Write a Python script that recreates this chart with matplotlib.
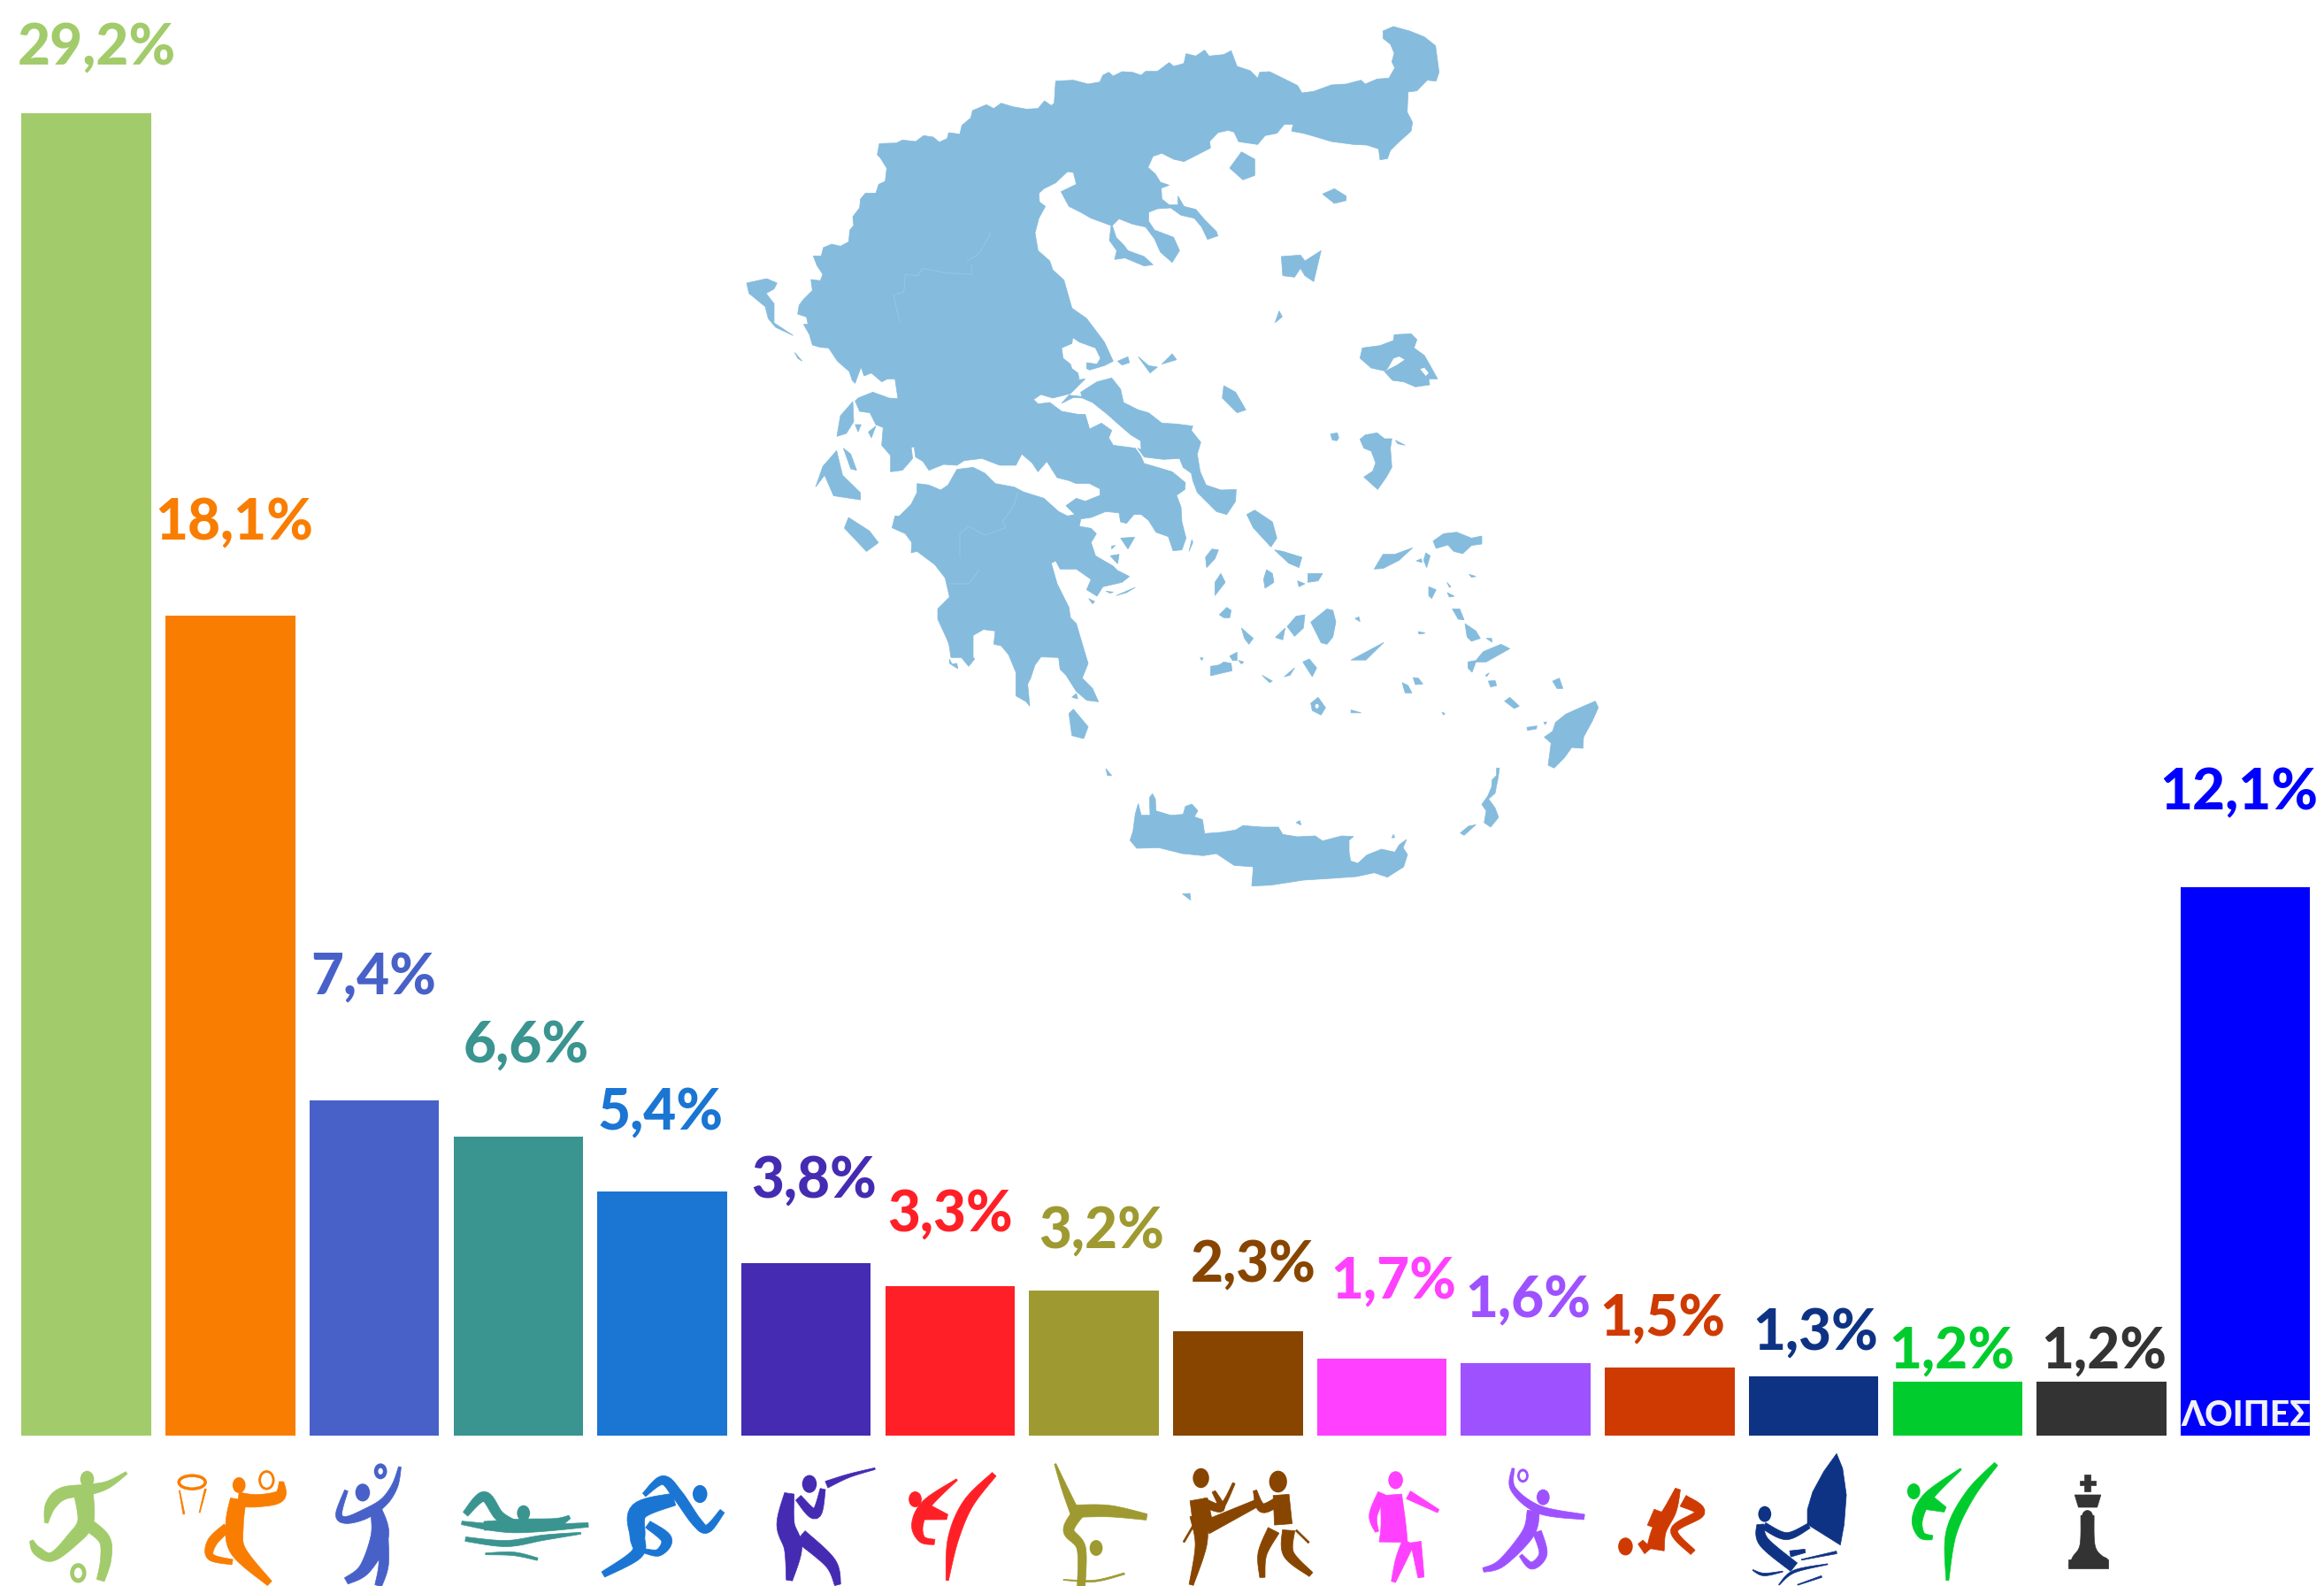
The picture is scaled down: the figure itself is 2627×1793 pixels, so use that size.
import matplotlib
matplotlib.use('Agg')
import matplotlib.pyplot as plt
import numpy as np
from matplotlib.patches import Ellipse, Polygon

percent = [29.2, 18.1, 7.4, 6.6, 5.4, 3.8, 3.3, 3.2, 2.3, 1.7, 1.6, 1.5, 1.3, 1.2, 1.2, 12.1]
percent_labels = ['29,2%', '18,1%', '7,4%', '6,6%', '5,4%', '3,8%', '3,3%', '3,2%',
                  '2,3%', '1,7%', '1,6%', '1,5%', '1,3%', '1,2%', '1,2%', '12,1%']
colors = ['#A2CB6B', '#F97D00', '#4861C9', '#3A9490', '#1A75D3', '#452BB2', '#FF2027', '#9E9A31',
          '#874500', '#FF40FF', '#9E52FF', '#CE3A02', '#0F3384', '#00CC2D', '#333333', '#0000FF']
others_label = 'ΛΟΙΠΕΣ'
MAP_COLOR = '#85BBDD'

# label anchors in picture pixels, they do not sit centred over the bars
label_x = [109, 265, 422, 595, 747, 920, 1074, 1245, 1417, 1575, 1727, 1879, 2052, 2206, 2378, 2531]
label_base = [73, 610, 1124, 1201, 1277, 1354, 1392, 1411, 1449, 1468, 1489, 1510, 1526, 1547, 1547, 915]

W, H = 2627, 1793
fig = plt.figure(figsize=(W / 100, H / 100), dpi=100, facecolor='white')

# bars: one unit of x is one bar slot (162.7 px), one unit of y is 51.2 px
ax = fig.add_axes([0, 0, 1, 1])
ax.bar(range(len(percent)), percent, width=0.9, color=colors)
ax.set_xlim(-97.7 / 162.7, (W - 97.7) / 162.7)
ax.set_ylim((1623 - H) / 51.2, 1623 / 51.2)
ax.axis('off')

# overlay in picture pixels for the map, the icons and the texts
ov = fig.add_axes([0, 0, 1, 1])
ov.set_xlim(0, W)
ov.set_ylim(H, 0)
ov.axis('off')
ov.patch.set_alpha(0)

for x, y, s, c in zip(label_x, label_base, percent_labels, colors):
    ov.text(x, y, s, color=c, fontsize=46, family='Lato', fontweight='black', ha='center', va='baseline')
ov.text(2538.5, 1612, others_label, color='#F0F0F6', fontsize=28, family='Lato',
        fontweight='black', ha='center', va='baseline')


def crop3(x0, y0, pts):
    return [(x0 + a / 3, y0 + b / 3) for a, b in pts]


def crop_d(pts):
    # the first overview crop, stretched 1.479x by 1.508y
    return [(780 + a / 1.479, b / 1.5077) for a, b in pts]


mainland_nw = [(290, 880), (262, 878), (235, 870), (225, 835), (205, 800), (220, 800), (215, 775), (185, 765), (190, 735),
               (205, 715), (235, 685), (230, 648), (262, 652), (270, 630), (250, 600), (238, 568), (265, 568), (272, 540),
               (300, 528), (330, 535), (358, 520), (362, 480), (375, 465), (372, 435), (395, 405), (398, 375), (415, 355),
               (450, 355), (460, 325), (482, 315), (487, 270), (465, 235), (455, 225), (462, 187), (520, 185), (540, 175),
               (585, 180), (612, 160), (645, 165), (665, 182), (692, 170), (697, 150), (735, 155), (742, 125), (772, 100),
               (778, 75), (825, 55), (850, 68), (875, 50), (915, 62), (960, 70), (1000, 68), (1022, 42), (1045, 58),
               (1055, 50), (1058, 0)]
mainland_ne = [(40, 215), (100, 212), (150, 225), (190, 218), (200, 195), (220, 185), (235, 198), (265, 183), (300, 185),
               (330, 195), (345, 182), (385, 182), (425, 152), (440, 165), (475, 155), (482, 122), (515, 130), (545, 110),
               (560, 130), (610, 125), (635, 112), (655, 165), (700, 180), (725, 205), (732, 185), (765, 183), (810, 205),
               (860, 230), (875, 255), (915, 250), (975, 228), (1025, 225), (1075, 212), (1090, 225), (1130, 208),
               (1170, 205), (1190, 170), (1180, 150), (1188, 120), (1175, 90), (1150, 70), (1150, 45), (1185, 30),
               (1240, 45), (1290, 65), (1328, 95), (1340, 185), (1330, 215), (1300, 212), (1265, 248), (1235, 252),
               (1232, 320), (1250, 355), (1245, 385), (1200, 425), (1175, 450), (1165, 478), (1140, 482), (1135, 445),
               (1095, 432), (1050, 430), (975, 420), (915, 402), (880, 392), (840, 385), (845, 362), (815, 362), (790, 392),
               (750, 400), (725, 430), (670, 422), (660, 420), (645, 388), (625, 382), (590, 390), (562, 420), (565, 442),
               (520, 465), (475, 488), (440, 480), (400, 460), (370, 470), (353, 508), (378, 530), (395, 558), (425, 568),
               (398, 578), (400, 615), (425, 635), (455, 635), (455, 605), (475, 640), (515, 650), (545, 685), (585, 725),
               (590, 740), (555, 752), (535, 710), (510, 680), (465, 670), (430, 645), (385, 648), (355, 660), (355, 690),
               (375, 720), (440, 745), (460, 790), (435, 830), (395, 795), (375, 750), (345, 710), (300, 700), (255, 682),
               (232, 705), (245, 745), (270, 770), (285, 790), (340, 810), (370, 838), (340, 842), (275, 815), (240, 820),
               (247, 790), (222, 755), (228, 705), (160, 680), (125, 660), (85, 640), (58, 590), (110, 565), (100, 525),
               (80, 522), (40, 560), (0, 580)]
mainland_e = [(1003, 355), (1005, 385), (1025, 400), (1003, 440), (990, 490), (1000, 550), (1040, 585), (1050, 615),
              (1088, 650), (1115, 745), (1165, 780), (1225, 860), (1255, 925), (1225, 940), (1175, 955), (1165, 950),
              (1165, 930), (1200, 935), (1212, 915), (1195, 880), (1140, 860), (1118, 845), (1115, 865), (1080, 880),
              (1085, 915), (1110, 935), (1115, 950), (1135, 965), (1140, 985), (1125, 990), (1160, 985), (1110, 1035),
              (1050, 1050), (1010, 1038), (985, 1055), (1000, 1070), (1040, 1065), (1080, 1095), (1135, 1105), (1160, 1105),
              (1175, 1155), (1215, 1135), (1250, 1160), (1240, 1185), (1255, 1210), (1330, 1220)]
mainland_s = [(868, 345), (880, 372), (925, 385), (975, 400), (1020, 437), (1018, 460), (990, 480), (1005, 520), (1008, 570),
              (1022, 625), (1008, 665), (978, 668), (962, 620), (920, 605), (895, 565), (870, 545), (835, 545), (800, 540),
              (750, 535), (700, 555), (665, 560), (645, 545), (615, 515), (650, 490), (680, 500), (730, 480), (730, 458),
              (695, 440), (650, 440), (625, 430), (585, 420), (550, 365), (520, 400), (500, 370), (465, 340), (445, 378),
              (390, 378), (330, 355), (270, 362), (245, 378), (200, 375), (150, 395), (130, 365), (105, 350), (100, 315),
              (90, 318), (95, 355), (60, 395), (20, 400)]
mainland_w = [(500, 1245), (470, 1210), (475, 1150), (450, 1140), (430, 1100), (395, 1095), (380, 1060), (390, 1050),
              (440, 1030), (495, 1050), (525, 1052), (515, 985), (490, 985), (470, 995), (435, 965), (410, 975), (400, 945),
              (385, 985), (380, 1000), (370, 990), (360, 960), (320, 925)]
evia = [(600, 168), (640, 148), (670, 150), (705, 165), (755, 205), (800, 245), (835, 275), (868, 295), (870, 325), (858, 320),
        (880, 350), (945, 358), (1000, 355), (1012, 385), (1040, 405), (1045, 430), (1060, 470), (1095, 505), (1125, 535),
        (1160, 545), (1190, 500), (1192, 460), (1140, 462), (1090, 445), (1070, 400), (1060, 340), (1072, 300), (1040, 260),
        (1045, 245), (990, 238), (940, 235), (895, 200), (860, 190), (810, 165), (800, 120), (770, 82), (720, 95),
        (665, 130), (668, 145), (625, 140)]
peloponnese = [(110, 440), (150, 445), (190, 462), (215, 445), (245, 392), (300, 385), (340, 405), (375, 440), (440, 452),
               (470, 468), (540, 490), (590, 535), (620, 550), (645, 545), (665, 562), (660, 585), (700, 592), (718, 610),
               (700, 640), (715, 685), (775, 720), (790, 735), (830, 755), (805, 775), (740, 790), (720, 822), (685, 800),
               (700, 765), (650, 730), (595, 730), (580, 702), (565, 710), (585, 780), (625, 860), (630, 895), (650, 915),
               (675, 1000), (690, 1050), (670, 1100), (705, 1135), (725, 1180), (685, 1175), (650, 1145), (615, 1090),
               (595, 1070), (590, 1030), (530, 1028), (510, 1055), (495, 1100), (485, 1120), (492, 1195), (480, 1180),
               (445, 1160), (445, 1080), (420, 1020), (395, 990), (370, 985), (375, 940), (335, 935), (300, 955), (300, 1030),
               (305, 1035), (285, 1060), (260, 1030), (225, 1030), (218, 985), (210, 965), (180, 900), (180, 865), (220, 825),
               (205, 760), (170, 715), (110, 670), (90, 675), (92, 640), (70, 610), (25, 590), (35, 550), (50, 550), (90, 510),
               (110, 470)]
crete = [(52, 210), (62, 180), (70, 120), (80, 85), (90, 125), (120, 125), (118, 65), (128, 52), (138, 70), (140, 110),
         (190, 125), (232, 122), (240, 95), (262, 87), (282, 110), (270, 130), (298, 140), (305, 187), (360, 183), (410, 175),
         (435, 160), (500, 165), (555, 165), (570, 190), (620, 198), (680, 195), (705, 212), (770, 195), (810, 197),
         (795, 210), (795, 250), (800, 280), (825, 288), (855, 260), (905, 240), (950, 250), (965, 225), (990, 207),
         (978, 235), (993, 258), (980, 300), (925, 335), (880, 320), (820, 333), (720, 340), (640, 345), (530, 362),
         (465, 365), (470, 300), (405, 295), (345, 255), (300, 262), (230, 255), (150, 235), (75, 237)]
islands_a = [
    [(12, 660), (80, 645), (115, 660), (105, 680), (78, 695), (105, 730), (105, 795), (170, 838), (110, 810), (85, 780),
     (75, 740), (20, 695)],
    [(175, 895), (200, 925), (185, 915)],
    [(318, 1180), (330, 1110), (372, 1062), (375, 1130), (350, 1170)],
    [(340, 1220), (365, 1240), (385, 1295), (365, 1290)],
    [(380, 1140), (400, 1140), (390, 1165)],
    [(425, 1165), (450, 1145), (435, 1185)],
]
islands_b = [
    [(630, 510), (670, 455), (715, 480), (715, 535), (675, 550)],
    [(945, 598), (985, 580), (1025, 605), (1025, 620), (985, 630)],
    [(805, 810), (870, 805), (885, 825), (940, 790), (915, 895), (885, 875), (870, 850), (850, 880), (810, 875)],
]
islands_c = [
    [(800, 570), (795, 540), (830, 510), (858, 515), (845, 545), (820, 575)],
    [(800, 625), (848, 622), (825, 662)],
    [(770, 652), (782, 650), (770, 662)],
    [(765, 685), (795, 680), (790, 712)],
    [(785, 820), (850, 792), (820, 810)],
    [(750, 805), (775, 808), (765, 812)],
    [(692, 830), (712, 840), (705, 848)],
    [(1088, 690), (1110, 662), (1132, 665), (1120, 695), (1092, 725)],
    [(1120, 775), (1140, 745), (1155, 775), (1120, 820)],
    [(1228, 545), (1255, 530), (1315, 570), (1330, 625), (1310, 655), (1250, 590)],
    [(1322, 665), (1350, 670), (1415, 690), (1405, 725), (1370, 710)],
    [(1295, 732), (1315, 745), (1320, 775), (1290, 795), (1285, 765)],
    [(1435, 745), (1485, 745), (1470, 770), (1435, 775)],
    [(1400, 770), (1425, 780), (1405, 790)],
    [(1135, 885), (1160, 860), (1175, 870), (1170, 895), (1150, 895)],
    [(1210, 930), (1250, 965), (1235, 985), (1220, 965)],
    [(1105, 1060), (1135, 1055), (1150, 1045), (1175, 1050), (1178, 1075), (1105, 1092)],
    [(1170, 1025), (1195, 1012), (1195, 1040), (1180, 1040)],
    [(1365, 925), (1395, 890), (1425, 885), (1420, 930), (1390, 958)],
    [(1325, 962), (1358, 930), (1350, 970)],
    [(1445, 910), (1500, 865), (1520, 870), (1530, 909), (1520, 960), (1500, 985), (1480, 980)],
    [(1418, 1045), (1440, 1035), (1465, 1065), (1450, 1095)],
    [(1355, 1095), (1390, 1065), (1375, 1090)],
    [(1280, 1090), (1315, 1110), (1305, 1115)],
    [(1445, 1185), (1470, 1165), (1495, 1200), (1480, 1225), (1450, 1210)],
    [(1150, 108), (1190, 130), (1225, 190), (1195, 200), (1145, 150)],
    [(640, 1205), (690, 1265), (675, 1305), (635, 1295), (625, 1220)],
    [(635, 1165), (650, 1152), (655, 1170)],
    [(1042, 630), (1045, 640), (1032, 670)],
    [(220, 1035), (228, 1052), (245, 1050), (248, 1068), (220, 1050)],
    [(790, 25), (825, 10), (830, 30), (805, 38)],
    [(860, 10), (895, 40), (925, 45), (900, 65)],
    [(940, 35), (975, 0), (990, 20)],
    [(1070, 1030), (1080, 1032), (1075, 1040)],
    [(1200, 1040), (1218, 1045), (1210, 1052)],
]
islands_d = [
    [(245, 768), (255, 810), (285, 840), (285, 852), (240, 845), (225, 810), (210, 830), (222, 795)],
    [(265, 882), (300, 905), (315, 925), (295, 940), (258, 900)],
    [(1105, 1125), (1160, 1095), (1130, 1125)],
    [(985, 530), (990, 540), (978, 550)],
    [(1105, 1210), (1122, 1215), (1105, 1215)],
    [(695, 1310), (705, 1322), (698, 1322)],
]
islands_e = [
    [(615, 150), (628, 143), (632, 158)],
    [(230, 392), (255, 390), (258, 413)],
    [(945, 190), (950, 200), (940, 202)],
]
islands_f = [
    [(112, 135), (120, 100), (180, 92), (225, 75), (228, 55), (285, 52), (305, 72), (295, 100), (330, 125), (350, 160),
     (375, 205), (345, 205), (348, 225), (300, 232), (260, 215), (222, 210), (195, 180), (215, 170), (235, 160), (265, 140),
     (245, 128), (225, 135), (205, 170), (195, 178), (150, 168)],
    [(112, 410), (130, 395), (170, 388), (195, 408), (220, 408), (215, 440), (220, 505), (200, 540), (172, 580), (125, 538),
     (155, 518), (165, 490), (150, 450), (125, 440)],
    [(232, 413), (265, 430), (240, 425)],
    [(12, 392), (35, 388), (40, 405), (33, 415), (18, 412)],
    [(360, 755), (395, 730), (440, 725), (490, 745), (525, 738), (525, 765), (490, 770), (460, 798), (430, 790), (410, 768),
     (370, 780)],
    [(160, 850), (190, 800), (230, 800), (290, 778), (245, 820), (190, 848)],
    [(303, 822), (320, 815), (322, 828)],
    [(335, 795), (350, 805), (338, 845), (328, 820)],
    [(345, 910), (370, 920), (355, 950), (345, 940)],
    [(408, 930), (432, 942), (415, 945)],
    [(425, 985), (450, 985), (465, 1022), (445, 1020)],
    [(482, 868), (505, 875), (490, 878)],
    [(95, 1018), (108, 1012), (112, 1028)],
    [(310, 1062), (332, 1068), (315, 1070)],
    [(407, 895), (420, 910), (415, 912)],
]
islands_g = [
    [(497, 400), (525, 380), (535, 350), (570, 322), (630, 295), (670, 278), (680, 300), (660, 345), (630, 400), (628, 438),
     (590, 435), (565, 470), (530, 505), (510, 495), (520, 420)],
    [(335, 505), (345, 505), (340, 540), (330, 590), (308, 610), (330, 640), (342, 672), (315, 705), (293, 690), (300, 650),
     (285, 628), (305, 600), (318, 570), (320, 545), (335, 530)],
    [(212, 725), (240, 702), (265, 697), (225, 733)],
    [(238, 145), (265, 140), (290, 110), (350, 85), (380, 100), (300, 145), (265, 145), (252, 180), (238, 165)],
    [(228, 15), (265, 40), (280, 65), (250, 75), (235, 60)],
    [(307, 210), (330, 208), (335, 225), (315, 230)],
    [(362, 278), (380, 265), (412, 295), (395, 303)],
    [(525, 210), (548, 200), (560, 235), (540, 235)],
    [(438, 367), (472, 362), (470, 372), (440, 377)],
    [(495, 350), (505, 348), (500, 358)],
    [(15, 215), (35, 225), (48, 250), (25, 250)],
    [(52, 198), (70, 200), (85, 220), (60, 222)],
    [(300, 65), (318, 65), (320, 78)],
    [(150, 315), (160, 320), (155, 325)],
    [(70, 45), (92, 45), (72, 50)],
    [(298, 190), (310, 182), (302, 195)],
]

shapes = [crop3(840, 100, mainland_nw) + crop3(1180, 20, mainland_ne) + crop3(840, 100, mainland_e)
          + crop3(1000, 400, mainland_s) + crop3(840, 100, mainland_w),
          crop3(1000, 400, evia), crop3(1000, 400, peloponnese), crop3(1260, 880, crete)]
shapes += [crop3(840, 100, s) for s in islands_a] + [crop3(1180, 20, s) for s in islands_b]
shapes += [crop3(1000, 400, s) for s in islands_c] + [crop_d(s) for s in islands_d]
shapes += [crop3(1260, 880, s) for s in islands_e] + [crop3(1500, 360, s) for s in islands_f]
shapes += [crop3(1580, 700, s) for s in islands_g]
for s in shapes:
    ov.add_patch(Polygon(s, closed=True, fc=MAP_COLOR, ec=MAP_COLOR, lw=0.5))

# gulf of gera on lesvos and the caldera of santorini
ov.add_patch(Polygon(crop3(1500, 360, [(316, 172), (330, 167), (345, 185), (335, 195)]), closed=True, fc='white', ec='none'))
sx, sy = crop3(1000, 400, [(1466, 1195)])[0]
ov.add_patch(Ellipse((sx, sy), 4, 5, fc='white', ec='none'))

# faint region borders inside the map
borders = [crop3(840, 100, [(840, 490), (800, 560), (760, 585)]),
           crop3(840, 100, [(775, 600), (775, 630), (680, 625), (610, 610), (590, 635), (550, 630), (545, 690), (510, 700), (530, 790)]),
           crop3(1000, 400, [(450, 470), (440, 510), (400, 570), (410, 590), (340, 615), (285, 585), (255, 610), (255, 690)]),
           crop3(1000, 400, [(320, 735), (285, 780), (220, 780)])]
for b in borders:
    b = np.array(b)
    ov.plot(b[:, 0], b[:, 1], color='#98C7E3', lw=0.7)


def left_px(x, y):
    return x / 1.188, 1580 + y / 3


def right_px(x, y):
    return 1300 + x / 1.1816, 1580 + y / 3


def smooth(p, n=10):
    # catmull-rom through the traced points, only to round the pictogram shapes
    if len(p) < 3:
        return p
    q = np.vstack([p[0], p, p[-1]])
    out = []
    for i in range(1, len(q) - 2):
        for t in np.linspace(0, 1, n, endpoint=False):
            out.append(0.5 * (2 * q[i] + (q[i + 1] - q[i - 1]) * t
                              + (2 * q[i - 1] - 5 * q[i] + 4 * q[i + 1] - q[i + 2]) * t ** 2
                              + (3 * q[i] - q[i - 1] - 3 * q[i + 1] + q[i + 2]) * t ** 3))
    out.append(q[-2])
    return np.array(out)


def limb(to_px, pts, color):
    # pts are (x, y, width), width in picture pixels
    p = np.array([list(to_px(a, b)) + [w] for a, b, w in pts], dtype=float)
    s = smooth(p)
    d = np.gradient(s[:, :2], axis=0)
    d = d / np.maximum(np.linalg.norm(d, axis=1, keepdims=True), 1e-6)
    n = np.column_stack([-d[:, 1], d[:, 0]])
    a = s[:, :2] + n * s[:, 2:3] / 2
    b = s[:, :2] - n * s[:, 2:3] / 2
    ov.add_patch(Polygon(np.vstack([a, b[::-1]]), closed=True, fc=color, ec=color, lw=0.5))


def dot(to_px, x, y, r, color, hole=0):
    cx, cy = to_px(x, y)
    ov.add_patch(Ellipse((cx, cy), r * 2 * 0.92, r * 2 * 1.12, fc=color, ec='none'))
    if hole:
        ov.add_patch(Ellipse((cx, cy), hole * 2 * 0.9, hole * 2 * 1.2, fc='white', ec='none'))


def solid(to_px, pts, color):
    ov.add_patch(Polygon([to_px(a, b) for a, b in pts], closed=True, fc=color, ec=color, lw=0.5))


c = colors[0]
dot(left_px, 117, 277, 8.5, c)
dot(left_px, 105, 595, 10, c, 5)
limb(left_px, [(170, 255, 3), (145, 295, 8), (120, 312, 12), (85, 325, 14), (68, 365, 12), (62, 425, 4)], c)
limb(left_px, [(112, 320, 22), (115, 420, 18), (98, 480, 15), (70, 540, 10), (50, 520, 10), (42, 485, 4)], c)
limb(left_px, [(115, 425, 14), (140, 480, 13), (142, 550, 12), (135, 620, 9)], c)

c = colors[1]
dot(left_px, 321, 297, 8, c)
dot(left_px, 358, 280, 10, c, 7)
hx, hy = left_px(258, 287)
ov.add_patch(Ellipse((hx, hy), 30, 15, fc='none', ec=c, lw=2.5))
limb(left_px, [(378, 285, 5), (375, 335, 13), (345, 350, 14), (320, 345, 16)], c)
limb(left_px, [(320, 345, 18), (315, 430, 20), (320, 520, 17), (362, 630, 7)], c)
limb(left_px, [(305, 440, 10), (285, 490, 11), (283, 540, 8), (312, 558, 6)], c)
limb(left_px, [(241, 315, 1), (247, 395, 2)], c)
limb(left_px, [(276, 310, 2), (268, 390, 1)], c)

c = colors[2]
dot(left_px, 511, 250, 8, c, 3)
dot(left_px, 487, 322, 9, c)
limb(left_px, [(537, 235, 3), (530, 300, 7), (515, 355, 9), (490, 395, 11), (465, 415, 8), (455, 395, 7), (465, 315, 4)], c)
limb(left_px, [(505, 380, 13), (510, 470, 20), (490, 580, 13), (465, 622, 8)], c)
limb(left_px, [(515, 480, 11), (515, 570, 11), (508, 638, 8)], c)

c = colors[3]
dot(left_px, 703, 392, 8, c)
limb(left_px, [(625, 395, 7), (650, 335, 11), (670, 400, 11), (690, 430, 10)], c)
limb(left_px, [(620, 425, 4), (690, 445, 9), (790, 432, 5)], c)
limb(left_px, [(650, 435, 10), (700, 430, 12), (745, 425, 10), (765, 405, 4)], c)
limb(left_px, [(625, 480, 5), (680, 495, 7), (730, 475, 6), (780, 460, 2)], c)
limb(left_px, [(652, 530, 2), (690, 530, 4), (722, 548, 3)], c)

c = colors[4]
dot(left_px, 940, 327, 9, c)
limb(left_px, [(865, 330, 5), (890, 280, 10), (910, 330, 12), (935, 420, 11), (950, 445, 9), (970, 385, 6)], c)
limb(left_px, [(905, 345, 14), (858, 385, 20), (856, 470, 17), (855, 530, 13), (810, 600, 7)], c)
limb(left_px, [(870, 430, 9), (895, 480, 12), (885, 525, 8), (865, 520, 5)], c)

c = colors[5]
dot(left_px, 1087, 293, 9, c)
limb(left_px, [(1175, 241, 2), (1140, 265, 4), (1110, 295, 8)], c)
limb(left_px, [(1060, 325, 11), (1055, 430, 20), (1065, 510, 20), (1060, 620, 7)], c)
limb(left_px, [(1075, 470, 16), (1115, 560, 13), (1125, 635, 7)], c)
limb(left_px, [(1072, 340, 8), (1095, 395, 11), (1105, 310, 6)], c)

c = colors[6]
dot(left_px, 1229, 345, 8, c)
limb(left_px, [(1335, 260, 6), (1300, 360, 12), (1280, 480, 12), (1272, 620, 3)], c)
limb(left_px, [(1285, 278, 2), (1245, 360, 11), (1232, 430, 13), (1238, 480, 8), (1255, 490, 6)], c)
limb(left_px, [(1240, 385, 20), (1272, 405, 6)], c)

c = colors[7]
dot(left_px, 1472, 510, 8, c)
limb(left_px, [(1417, 225, 2), (1430, 310, 7), (1445, 400, 11)], c)
limb(left_px, [(1445, 385, 14), (1490, 385, 13), (1540, 405, 7)], c)
limb(left_px, [(1450, 385, 13), (1435, 450, 12), (1452, 510, 10), (1452, 640, 9)], c)
limb(left_px, [(1428, 618, 1), (1470, 622, 2), (1510, 597, 2)], c)

c = colors[8]
dot(right_px, 68, 273, 10, c)
dot(right_px, 171, 285, 11, c)
limb(right_px, [(65, 345, 20), (70, 420, 22)], c)
limb(right_px, [(65, 400, 20), (68, 500, 13), (55, 635, 5)], c)
limb(right_px, [(75, 440, 16), (145, 355, 8)], c)
limb(right_px, [(85, 318, 4), (95, 375, 8), (70, 355, 10)], c)
limb(right_px, [(112, 290, 3), (103, 340, 4), (95, 375, 6)], c)
limb(right_px, [(175, 330, 18), (178, 430, 20)], c)
limb(right_px, [(165, 450, 14), (150, 530, 10), (150, 610, 6)], c)
limb(right_px, [(185, 450, 14), (185, 530, 12), (215, 600, 6)], c)
limb(right_px, [(140, 315, 4), (150, 375, 10), (175, 345, 10)], c)
limb(right_px, [(60, 425, 2), (45, 490, 2)], c)
limb(right_px, [(195, 450, 2), (212, 492, 2)], c)

c = colors[9]
dot(right_px, 328, 280, 9, c)
limb(right_px, [(322, 330, 24), (325, 430, 28), (325, 490, 32)], c)
limb(right_px, [(345, 330, 10), (385, 385, 4)], c)
limb(right_px, [(310, 325, 10), (298, 400, 9), (303, 455, 4)], c)
limb(right_px, [(345, 490, 14), (335, 550, 12), (325, 625, 5)], c)
limb(right_px, [(355, 490, 12), (362, 610, 7)], c)

c = colors[10]
dot(right_px, 498, 265, 7, c, 4)
dot(right_px, 525, 338, 8, c)
limb(right_px, [(485, 240, 3), (485, 310, 6), (520, 380, 9), (580, 405, 6)], c)
limb(right_px, [(512, 385, 14), (505, 460, 14), (470, 560, 9), (445, 585, 5)], c)
limb(right_px, [(517, 455, 10), (525, 530, 9), (510, 570, 8), (495, 535, 4)], c)

c = colors[11]
dot(right_px, 635, 505, 9, c)
limb(right_px, [(705, 310, 6), (695, 380, 14), (680, 450, 16), (675, 515, 20)], c)
limb(right_px, [(712, 350, 14), (735, 390, 10), (700, 450, 8), (725, 525, 7)], c)
limb(right_px, [(680, 385, 12), (672, 440, 14)], c)
limb(right_px, [(655, 490, 7), (665, 520, 10)], c)

c = colors[12]
dot(right_px, 821, 395, 8, c)
solid(right_px, [(917, 190), (925, 240), (930, 330), (927, 430), (922, 500), (878, 430), (878, 380), (885, 320), (900, 250)], c)
limb(right_px, [(815, 430, 8), (820, 490, 12), (860, 575, 12)], c)
limb(right_px, [(820, 435, 8), (850, 470, 8), (880, 435, 6)], c)
limb(right_px, [(855, 530, 7), (875, 520, 4)], c)
limb(right_px, [(870, 550, 1), (917, 525, 3)], c)
limb(right_px, [(805, 585, 1), (820, 600, 3), (845, 590, 1)], c)
limb(right_px, [(840, 635, 1), (860, 590, 3), (905, 565, 1)], c)
limb(right_px, [(865, 635, 1), (897, 607, 2)], c)

c = colors[13]
dot(right_px, 1020, 318, 8, c)
limb(right_px, [(1130, 225, 5), (1095, 330, 11), (1070, 460, 12), (1065, 620, 3)], c)
limb(right_px, [(1083, 242, 2), (1040, 335, 11), (1025, 410, 12), (1030, 465, 8), (1045, 475, 5)], c)
limb(right_px, [(1035, 350, 20), (1062, 380, 6)], c)

c = colors[14]
solid(right_px, [(1248, 262), (1256, 262), (1256, 282), (1263, 282), (1263, 298), (1256, 298), (1256, 318),
                 (1248, 318), (1248, 298), (1242, 298), (1242, 282), (1248, 282)], c)
solid(right_px, [(1235, 330), (1270, 330), (1265, 372), (1240, 372)], c)
dot(right_px, 1252, 405, 7, c)
limb(right_px, [(1252, 400, 15), (1252, 500, 17), (1252, 540, 34), (1253, 560, 45)], c)
solid(right_px, [(1226, 550), (1280, 550), (1280, 580), (1226, 580)], c)

fig.savefig('out.png', dpi=100)
